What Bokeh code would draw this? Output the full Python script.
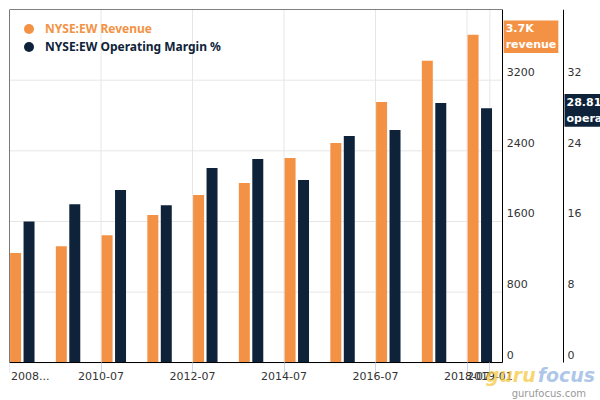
from bokeh.plotting import figure
from bokeh.models import (Range1d, LinearAxis, FixedTicker, PrintfTickFormatter,
                          Legend, LegendItem, Label, ColumnDataSource)
from bokeh.embed import file_html
from bokeh.resources import INLINE

# ---- data ----
years = [2008, 2009, 2010, 2011, 2012, 2013, 2014, 2015, 2016, 2017, 2018]
revenue = [1244, 1320, 1445, 1672, 1899, 2035, 2318, 2489, 2954, 3419, 3714]
margin = [16.0, 17.96, 19.55, 17.85, 22.05, 23.07, 20.69, 25.68, 26.36, 29.42, 28.81]
x_tick_values = [2008.5, 2010.5, 2012.5, 2014.5, 2016.5, 2018.5, 2019.0]
x_tick_labels = ["2008...", "2010-07", "2012-07", "2014-07", "2016-07", "2018-07", "2019-01"]
rev_ticks = [0, 800, 1600, 2400, 3200]
margin_ticks = [0, 8, 16, 24, 32]

ORANGE = "#f39244"
NAVY = "#0e2339"
GRID = "#e6e6e6"
FONT = "DejaVu Sans"
NAN = float("nan")

# ---- layout constants (plot area 9..502 px wide, 9..362 px tall) ----
x_start, plot_right = 2008.5, 2019.28
px_per_year = 45.75
frame_x_end = x_start + 591 / px_per_year          # frame reaches the canvas edge
margin_axis_x = x_start + 554 / px_per_year        # second axis line
rev_top = 4000
rev_bottom = -rev_top * (400 - 362.3) / (362.3 - 9)
mar_top = 40
mar_bottom = rev_bottom * mar_top / rev_top

period_x = [y + 0.78 for y in years]
src = ColumnDataSource(dict(
    x_rev=[x - 0.147 for x in period_x],
    x_mar=[x + 0.147 for x in period_x],
    revenue=revenue, margin=margin))

p = figure(width=600, height=400, x_range=Range1d(x_start, frame_x_end),
           y_range=Range1d(rev_bottom, rev_top),
           x_axis_location=None, y_axis_location=None,
           output_backend="svg", toolbar_location=None,
           min_border_left=9, min_border_right=0, min_border_top=9,
           min_border_bottom=0)
p.extra_y_ranges = {"margin": Range1d(mar_bottom, mar_top)}
p.outline_line_color = None
p.background_fill_color = "white"
p.border_fill_color = "white"
p.grid.visible = False

# ---- grid lines (limited to the plot area) ----
p.segment(x0=[x_start] * len(rev_ticks), x1=[plot_right] * len(rev_ticks),
          y0=rev_ticks, y1=rev_ticks, line_color=GRID, line_width=1)
p.segment(x0=x_tick_values, x1=x_tick_values, y0=[0] * len(x_tick_values),
          y1=[rev_top] * len(x_tick_values), line_color=GRID, line_width=1)

# ---- bars ----
p.vbar(x="x_rev", top="revenue", width=0.24, bottom=0, source=src,
       fill_color=ORANGE, line_color=None)
p.vbar(x="x_mar", top="margin", width=0.24, bottom=0, source=src,
       y_range_name="margin", fill_color=NAVY, line_color=None)


def style_labels(ax):
    ax.major_label_text_font = FONT
    ax.major_label_text_font_size = "11px"
    ax.major_label_text_color = "#333333"
    ax.minor_tick_line_color = None


# x axis
xa = LinearAxis(ticker=FixedTicker(ticks=x_tick_values), fixed_location=0,
                bounds=(x_start, plot_right))
overrides = {v: l for v, l in zip(x_tick_values, x_tick_labels)}
overrides[x_tick_values[0]] = "\u00a0" * 3 + x_tick_labels[0]
xa.major_label_overrides = overrides
xa.major_tick_out = 10
xa.major_tick_in = 0
xa.major_tick_line_color = "#ccd6eb"
xa.axis_line_color = "black"
xa.major_label_standoff = -3
style_labels(xa)
p.add_layout(xa, "below")

# revenue axis
ya = LinearAxis(ticker=FixedTicker(ticks=rev_ticks), fixed_location=plot_right,
                bounds=(0, rev_top), formatter=PrintfTickFormatter(format="%d\n"))
ya.major_tick_out = 0
ya.major_tick_in = 0
ya.axis_line_color = "black"
ya.major_label_standoff = 4
style_labels(ya)
p.add_layout(ya, "right")

# margin axis
ma = LinearAxis(y_range_name="margin", ticker=FixedTicker(ticks=margin_ticks),
                fixed_location=margin_axis_x, bounds=(0, mar_top),
                formatter=PrintfTickFormatter(format="%d\n"))
ma.major_tick_out = 0
ma.major_tick_in = 0
ma.axis_line_color = "black"
ma.major_label_standoff = 4
style_labels(ma)
p.add_layout(ma, "right")

# border lines: left and top
la = LinearAxis(ticker=FixedTicker(ticks=[]), fixed_location=x_start,
                bounds=(0, rev_top), axis_line_color="black")
p.add_layout(la, "left")
ta = LinearAxis(ticker=FixedTicker(ticks=[]), fixed_location=rev_top,
                bounds=(x_start, plot_right), axis_line_color="black")
p.add_layout(ta, "above")

# ---- legends (two, for separate text colours) ----
r1 = p.scatter(x=[NAN], y=[NAN], marker="circle", fill_color=ORANGE, line_color=None)
r2 = p.scatter(x=[NAN], y=[NAN], marker="circle", fill_color=NAVY, line_color=None)
for r, lab, col, loc in [(r1, "NYSE:EW Revenue", ORANGE, (7, 359)),
                         (r2, "NYSE:EW Operating Margin %", NAVY, (7, 341))]:
    lg = Legend(items=[LegendItem(label=lab, renderers=[r])], location=loc,
                glyph_width=25, glyph_height=25, label_standoff=4,
                padding=0, margin=0, spacing=0,
                border_line_color=None, background_fill_alpha=0,
                label_text_color=col, label_text_font="Noto Sans",
                label_text_font_style="bold", label_text_font_size="12px")
    p.add_layout(lg)

# ---- value boxes at the right ----
p.add_layout(Label(x=plot_right, y=revenue[-1], x_offset=1, y_offset=-2,
                   text=f"{revenue[-1] / 1000:.1f}K\nrevenue",
                   text_align="left", text_baseline="middle",
                   text_color="white", text_font=FONT, text_font_style="bold",
                   text_font_size="11px", background_fill_color=ORANGE,
                   padding=2))
p.add_layout(Label(x=margin_axis_x, y=margin[-1], y_range_name="margin",
                   x_offset=1, y_offset=-2,
                   text=f"{margin[-1]:.2f}\noperating margin",
                   text_align="left", text_baseline="middle",
                   text_color="white", text_font=FONT, text_font_style="bold",
                   text_font_size="11px", background_fill_color=NAVY,
                   padding=2))

# ---- watermark ----
p.add_layout(Label(x=plot_right, y=0, x_offset=-17, y_offset=-12, text="guru",
                   text_font=FONT, text_font_style="bold italic", text_font_size="19px",
                   text_color="#f5c842", text_alpha=0.75, text_baseline="middle"))
p.add_layout(Label(x=plot_right, y=0, x_offset=35, y_offset=-12, text="focus",
                   text_font=FONT, text_font_style="bold italic", text_font_size="19px",
                   text_color="#93b5e2", text_alpha=0.75, text_baseline="middle"))
p.add_layout(Label(x=plot_right, y=0, x_offset=9, y_offset=-31, text="gurufocus.com",
                   text_font=FONT, text_font_size="10px",
                   text_color="#999999", text_baseline="middle"))

open("out.html", "w").write(file_html(p, INLINE))
